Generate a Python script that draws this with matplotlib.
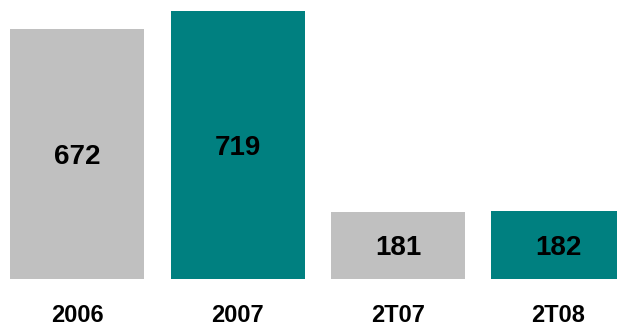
import matplotlib.pyplot as plt

plt.rcParams['font.family'] = ['Liberation Sans', 'DejaVu Sans']

# Sales by period
periods = ['2006', '2007', '2T07', '2T08']
values = [672, 719, 181, 182]
colors = ['#C0C0C0', '#008080', '#C0C0C0', '#008080']

fig = plt.figure(figsize=(6.17, 3.27), dpi=100)
ax = fig.add_axes([0, 48 / 327, 1, 279 / 327])

x = range(len(periods))
bars = ax.bar(x, values, width=0.835, color=colors)

ax.set_xlim(-0.48, 3.3645)
ax.set_ylim(0, 748.6)
ax.axis('off')

# value in the middle of each bar, period name underneath
for xi, v, name in zip(x, values, periods):
    ax.text(xi, v / 2 - 8, str(v), ha='center', va='center',
            fontsize=20, fontweight='bold', color='black')
    ax.text(xi, -115, name, ha='center', va='baseline',
            fontsize=17, fontweight='bold', color='black', clip_on=False)

fig.savefig('out.png', dpi=100)
